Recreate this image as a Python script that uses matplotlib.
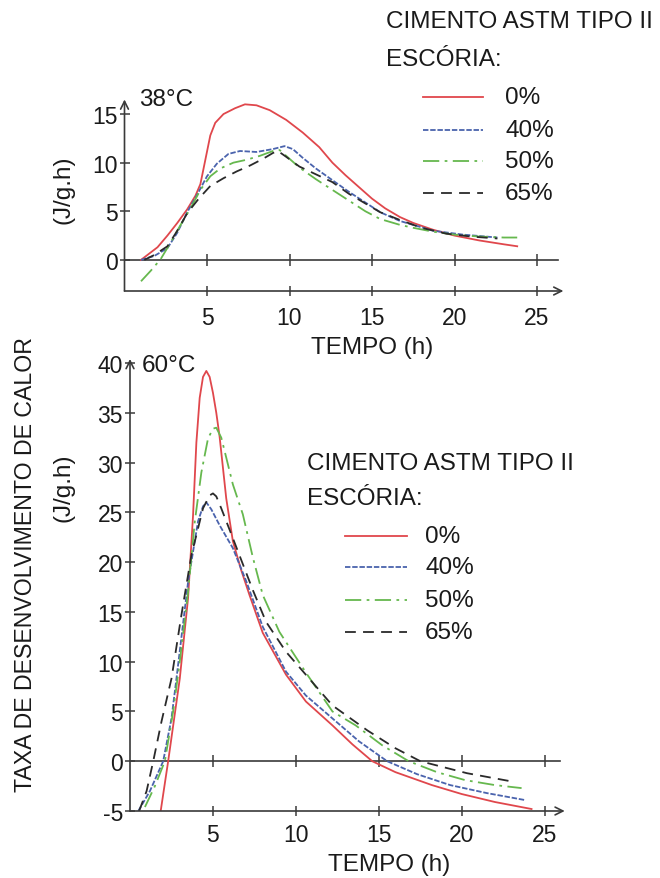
import numpy as np
import matplotlib
matplotlib.use("Agg")
import matplotlib.pyplot as plt
from matplotlib.lines import Line2D

plt.rcParams['font.family'] = ['Liberation Sans', 'DejaVu Sans']
plt.rcParams['axes.unicode_minus'] = False

# ---- data ----
labels = ["0%", "40%", "50%", "65%"]
xticks = [5, 10, 15, 20, 25]
yticks_top = [0, 5, 10, 15]
yticks_bot = [-5, 0, 5, 10, 15, 20, 25, 30, 35, 40]

# 38 C
t38_red = [1.0, 2.0, 2.6, 3.2, 3.8, 4.3, 4.6, 4.9, 5.2, 5.5, 6.0, 6.7, 7.3, 8.0, 8.8, 9.8,
           10.8, 11.8, 12.6, 13.4, 14.2, 15.0, 15.8, 16.7, 17.5, 18.7, 20.0, 21.5, 23.0, 23.8]
q38_red = [0.0, 1.3, 2.5, 3.8, 5.2, 6.6, 7.8, 10.3, 12.8, 14.1, 15.0, 15.6, 16.0, 15.9, 15.4, 14.4,
           13.1, 11.6, 10.0, 8.7, 7.5, 6.3, 5.3, 4.4, 3.8, 3.1, 2.5, 2.0, 1.6, 1.4]
t38_blue = [1.0, 1.8, 2.6, 3.2, 3.8, 4.4, 5.0, 5.6, 6.3, 7.0, 8.0, 9.0, 9.7, 10.2, 10.8,
            11.6, 12.6, 13.6, 14.6, 15.5, 16.7, 18.7, 20.5, 22.6]
q38_blue = [0.0, 0.4, 1.2, 2.8, 4.9, 6.7, 8.6, 9.9, 10.9, 11.2, 11.1, 11.4, 11.7, 11.4, 10.5,
            9.4, 8.2, 7.0, 5.9, 4.9, 4.0, 3.0, 2.6, 2.3]
t38_green = [1.0, 1.6, 2.2, 2.8, 3.4, 4.0, 4.6, 5.2, 5.8, 6.6, 7.4, 8.2, 9.0, 9.4, 9.8,
             10.6, 11.6, 12.6, 13.6, 14.6, 15.5, 16.7, 17.5, 18.7, 20.0, 21.5, 23.0, 23.8]
q38_green = [-2.2, -1.1, 0.1, 1.8, 3.6, 5.3, 7.2, 8.6, 9.4, 10.0, 10.3, 10.7, 11.2, 11.3, 10.7,
             9.5, 8.3, 7.2, 6.1, 5.0, 4.2, 3.6, 3.3, 2.9, 2.6, 2.4, 2.3, 2.3]
t38_black = [1.2, 1.8, 2.6, 3.2, 3.8, 4.5, 5.2, 6.0, 6.8, 7.6, 8.4, 9.0, 9.3, 9.8, 10.6,
             11.6, 12.6, 13.6, 14.6, 15.5, 16.7, 18.0, 19.5, 21.0, 22.6]
q38_black = [0.0, 0.5, 1.4, 3.0, 4.8, 6.3, 7.6, 8.4, 9.1, 9.7, 10.4, 11.0, 11.2, 10.6, 9.6,
             8.8, 8.0, 6.8, 5.8, 4.9, 4.1, 3.3, 2.7, 2.4, 2.2]

# 60 C
t60_red = [1.85, 2.3, 3.0, 3.5, 3.8, 4.0, 4.2, 4.4, 4.6, 4.8, 5.0, 5.2, 5.4, 5.8, 6.2, 6.7, 7.2, 8.0,
           9.4, 10.6, 12.2, 13.4, 14.6, 16.0, 18.2, 20.0, 22.0, 24.2]
q60_red = [-5.0, 0.0, 8.3, 16.4, 24.7, 32.0, 36.5, 38.6, 39.2, 38.6, 37.0, 35.0, 32.6, 26.4, 22.1, 19.2, 16.7, 12.9,
           8.7, 6.0, 3.6, 1.7, 0.0, -1.1, -2.4, -3.3, -4.1, -4.8]
t60_blue = [0.5, 1.2, 2.0, 2.5, 2.8, 3.5, 4.1, 4.4, 4.6, 4.9, 5.4, 6.2, 7.0, 8.0, 9.4, 10.6, 12.2,
            13.8, 15.5, 17.3, 19.3, 21.5, 23.8]
q60_blue = [-5.0, -3.0, 0.0, 4.3, 8.3, 18.0, 24.1, 25.6, 26.0, 25.3, 23.7, 21.4, 18.1, 13.5, 9.0, 6.6, 4.3,
            2.0, 0.0, -1.3, -2.4, -3.2, -3.9]
t60_green = [0.9, 1.5, 2.1, 2.6, 3.0, 3.5, 3.9, 4.3, 4.7, 5.0, 5.2, 5.5, 5.8, 6.2, 6.8, 7.4,
             8.0, 9.0, 10.6, 12.2, 13.6, 15.2, 16.8, 18.5, 20.2, 22.0, 23.6]
q60_green = [-4.6, -2.5, 0.0, 5.0, 10.0, 17.0, 24.0, 29.0, 32.4, 33.4, 33.5, 32.5, 30.5, 27.8, 24.8, 20.5,
             16.7, 13.0, 8.9, 5.0, 3.6, 1.6, 0.0, -1.1, -1.9, -2.4, -2.7]
t60_black = [0.55, 1.0, 1.4, 1.9, 2.5, 3.1, 3.7, 4.4, 4.8, 5.0, 5.2, 5.5, 6.2, 7.4, 8.2, 9.4, 10.8,
             12.2, 14.3, 16.0, 17.5, 20.3, 22.9]
q60_black = [-5.0, -3.0, 0.0, 4.0, 8.3, 14.7, 20.7, 25.4, 26.7, 26.9, 26.6, 25.4, 22.4, 17.2, 14.0, 11.0, 8.3,
             5.6, 3.1, 1.3, 0.0, -1.2, -2.0]

colors = ['#e0474c', '#4a63ad', '#66b84e', '#2a2a2a']
styles = ['-', (0, (3, 1)), (0, (9, 3, 1.5, 3)), (0, (6, 4))]
axcol = '#3a3a3a'
fs = 17.5

W, H = 660, 879
fig = plt.figure(figsize=(6.6, 8.79), dpi=100)


def px(x, y):
    return x / W, 1 - y / H


def setup(ax, xmax, ylo, yarrow, yticks, xlabpad):
    for s in ax.spines.values():
        s.set_visible(False)
    ax.set_xticks(xticks)
    ax.set_yticks(yticks)
    ax.tick_params(axis='both', direction='inout', length=7, width=1.1, color=axcol,
                   labelsize=16.5, labelcolor='#1a1a1a')
    ax.tick_params(axis='y', pad=1.5)
    ax.tick_params(axis='x', pad=xlabpad)
    arr = dict(arrowstyle='->', color=axcol, lw=1.2, mutation_scale=14, shrinkA=0, shrinkB=0)
    ax.annotate('', xy=(xmax, ylo), xytext=(0, ylo), arrowprops=arr, annotation_clip=False)
    ax.annotate('', xy=(0, yarrow), xytext=(0, ylo), arrowprops=arr, annotation_clip=False)
    ax.plot([0, xmax - 0.3], [0, 0], color=axcol, lw=1.2)
    ax.plot(xticks, np.zeros(len(xticks)), ls='none', marker='|', ms=8, mew=1.1, color=axcol)


# ---- top: 38 C ----
ax1 = fig.add_axes([124.5 / W, 1 - 292 / H, 445.5 / W, 192.5 / H])
ax1.set_xlim(0, 27)
ax1.set_ylim(-3.2, 16.6)
setup(ax1, 26.6, -3.2, 16.5, yticks_top, 7)
for t, q, c, ls in zip([t38_red, t38_blue, t38_green, t38_black],
                       [q38_red, q38_blue, q38_green, q38_black], colors, styles):
    ax1.plot(t, q, color=c, ls=ls, lw=1.3)

# ---- bottom: 60 C ----
ax2 = fig.add_axes([130 / W, 1 - 812 / H, 448 / W, 453 / H])
ax2.set_xlim(0, 27)
ax2.set_ylim(-5, 40.5)
setup(ax2, 26.2, -5, 40.4, yticks_bot, 5.5)
for t, q, c, ls in zip([t60_red, t60_blue, t60_green, t60_black],
                       [q60_red, q60_blue, q60_green, q60_black], colors, styles):
    ax2.plot(t, q, color=c, ls=ls, lw=1.3)

# ---- texts ----
fig.text(*px(139, 100), "38°C", fontsize=fs, va='center', ha='left', color='#1a1a1a')
fig.text(*px(142, 366), "60°C", fontsize=fs, va='center', ha='left', color='#1a1a1a')
fig.text(*px(63, 190), "(J/g.h)", fontsize=fs, rotation=90, va='center', ha='center', color='#1a1a1a')
fig.text(*px(63, 488), "(J/g.h)", fontsize=fs, rotation=90, va='center', ha='center', color='#1a1a1a')
fig.text(*px(26, 564), "TAXA DE DESENVOLVIMENTO DE CALOR", fontsize=16.7, rotation=90,
         va='center', ha='center', color='#1a1a1a')
fig.text(*px(372, 348), "TEMPO (h)", fontsize=fs, va='center', ha='center', color='#1a1a1a')
fig.text(*px(389, 865), "TEMPO (h)", fontsize=fs, va='center', ha='center', color='#1a1a1a')


def legend(x0, y_title, y_sub, lx0, lx1, ys, tx):
    fig.text(*px(x0, y_title), "CIMENTO ASTM TIPO II", fontsize=fs, va='center', ha='left', color='#1a1a1a')
    fig.text(*px(x0, y_sub), "ESCÓRIA:", fontsize=fs, va='center', ha='left', color='#1a1a1a')
    for y, c, ls, lab in zip(ys, colors, styles, labels):
        fig.add_artist(Line2D([lx0 / W, lx1 / W], [1 - y / H, 1 - y / H], color=c, ls=ls, lw=1.3,
                              transform=fig.transFigure))
        fig.text(*px(tx, y), lab, fontsize=fs, va='center', ha='left', color='#1a1a1a')


legend(386, 22, 60, 423, 483, [98, 131, 162, 194], 505)
legend(307, 464, 499, 345, 407, [537, 568, 601, 633], 425)

fig.savefig("out.png", dpi=100)
